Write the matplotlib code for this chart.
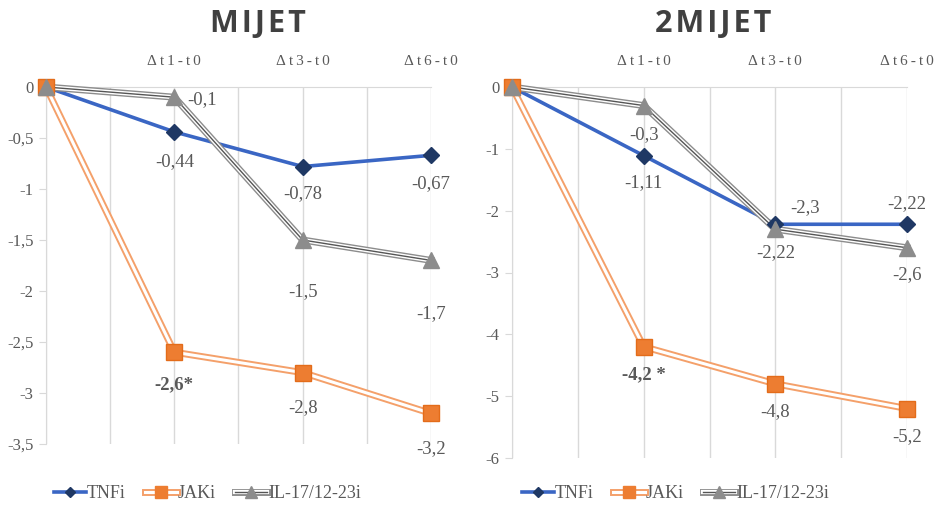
import matplotlib.pyplot as plt
from matplotlib.ticker import FuncFormatter, MultipleLocator
from matplotlib.legend_handler import HandlerTuple
from matplotlib.lines import Line2D

categories = ["", "Δt1-t0", "Δt3-t0", "Δt6-t0"]
series_names = ["TNFi", "JAKi", "IL-17/12-23i"]

mijet_tnfi = [0, -0.44, -0.78, -0.67]
mijet_jaki = [0, -2.6, -2.8, -3.2]
mijet_il = [0, -0.1, -1.5, -1.7]

mijet2_tnfi = [0, -1.11, -2.22, -2.22]
mijet2_jaki = [0, -4.2, -4.8, -5.2]
mijet2_il = [0, -0.3, -2.3, -2.6]

# labels: (text, series index, point index, dx px, dy px, bold)
mijet_labels = [
    ("-0,44", 0, 1, 0, -30, False), ("-0,78", 0, 2, 0, -27, False), ("-0,67", 0, 3, 0, -28, False),
    ("-2,6*", 1, 1, 0, -33, True), ("-2,8", 1, 2, 0, -35, False), ("-3,2", 1, 3, 0, -35, False),
    ("-0,1", 2, 1, 13, -2, False), ("-1,5", 2, 2, 0, -52, False), ("-1,7", 2, 3, 0, -53, False),
]
mijet2_labels = [
    ("-1,11", 0, 1, 0, -27, False), ("-2,22", 0, 2, 0, -28, False), ("-2,22", 0, 3, 0, 21, False),
    ("-4,2 *", 1, 1, 0, -28, True), ("-4,8", 1, 2, 0, -28, False), ("-5,2", 1, 3, 0, -28, False),
    ("-0,3", 2, 1, 0, -29, False), ("-2,3", 2, 2, 15, 22, False), ("-2,6", 2, 3, 0, -27, False),
]

SERIF = "Liberation Serif"
TXT = "#595959"
GRID = "#d9d9d9"

plt.rcParams["font.family"] = [SERIF, "DejaVu Sans"]

fig = plt.figure(figsize=(9.35, 5.07), dpi=100)
W, H = 935, 507


def spaced(s, sep="\u2009"):
    return sep.join(s)


def draw(ax, tnfi, jaki, il, labels, ymin, ystep):
    x = list(range(len(categories)))
    # TNFi
    ax.plot(x, tnfi, color="#3a66c4", lw=2.6, zorder=3, clip_on=False)
    ax.plot(x, tnfi, ls="none", marker="D", ms=8, mfc="#1f3864", mec="#1f3864", zorder=4, clip_on=False)
    # JAKi double line
    ax.plot(x, jaki, color="#f4a06a", lw=5, zorder=3, clip_on=False)
    ax.plot(x, jaki, color="white", lw=2.2, zorder=3, clip_on=False)
    ax.plot(x, jaki, ls="none", marker="s", ms=11, mfc="#ed7d31", mec="#e36c1a", zorder=5, clip_on=False)
    # IL double line with centre
    ax.plot(x, il, color="#8c8c8c", lw=5, zorder=3, clip_on=False)
    ax.plot(x, il, color="white", lw=3, zorder=3, clip_on=False)
    ax.plot(x, il, color="#555555", lw=1, zorder=3, clip_on=False)
    ax.plot(x, il, ls="none", marker="^", ms=12, mfc="#8c8c8c", mec="#8c8c8c", zorder=6, clip_on=False)

    data = [tnfi, jaki, il]
    for txt, s, i, dx, dy, bold in labels:
        ha = "left" if dx > 10 else "center"
        ax.annotate(txt, (x[i], data[s][i]), xytext=(dx * 0.72, dy * 0.72),
                    textcoords="offset points", ha=ha, va="center",
                    fontsize=13.5, color=TXT, fontweight="bold" if bold else "normal")

    ax.set_xlim(0, 3)
    ax.set_ylim(ymin, 0)
    ax.xaxis.tick_top()
    ax.set_xticks(x)
    ax.set_xticklabels([spaced(c) for c in categories], fontsize=11, color=TXT)
    ax.tick_params(axis="x", length=0, pad=14)
    ax.xaxis.set_minor_locator(MultipleLocator(0.5))
    ax.tick_params(axis="x", which="minor", length=0)
    ax.grid(axis="x", which="both", color=GRID, lw=1)
    ax.yaxis.set_major_locator(MultipleLocator(ystep))
    ax.yaxis.set_major_formatter(FuncFormatter(lambda v, p: ("%g" % v).replace(".", ",")))
    ax.tick_params(axis="y", labelsize=12, labelcolor=TXT, color=GRID, length=5, pad=4)
    for side in ["bottom", "right"]:
        ax.spines[side].set_visible(False)
    for side in ["top", "left"]:
        ax.spines[side].set_color(GRID)

    handles = [
        (Line2D([], [], color="#3a66c4", lw=2.6),
         Line2D([], [], ls="none", marker="D", ms=5, color="#1f3864")),
        (Line2D([], [], color="#f4a06a", lw=5), Line2D([], [], color="white", lw=2.2),
         Line2D([], [], ls="none", marker="s", ms=8, color="#ed7d31")),
        (Line2D([], [], color="#8c8c8c", lw=5), Line2D([], [], color="white", lw=3),
         Line2D([], [], color="#555555", lw=1),
         Line2D([], [], ls="none", marker="^", ms=8, color="#8c8c8c")),
    ]
    return handles


legend_kw = dict(handler_map={tuple: HandlerTuple(ndivide=1, pad=0)}, loc="center left",
                 ncol=3, frameon=False, fontsize=13, labelcolor=TXT, handlelength=1.75,
                 handletextpad=0.05, columnspacing=1.1, borderaxespad=0, borderpad=0)

ax1 = fig.add_axes([46 / W, 1 - 444 / H, (431 - 46) / W, (444 - 87) / H])
h = draw(ax1, mijet_tnfi, mijet_jaki, mijet_il, mijet_labels, -3.5, 0.5)
ax1.legend(h, series_names, bbox_to_anchor=((54 - 46) / 385, -(494 - 444) / 357), **legend_kw)

ax2 = fig.add_axes([512 / W, 1 - 458 / H, (907 - 512) / W, (458 - 87) / H])
h = draw(ax2, mijet2_tnfi, mijet2_jaki, mijet2_il, mijet2_labels, -6, 1)
ax2.legend(h, series_names, bbox_to_anchor=((522 - 512) / 395, -(494 - 458) / 371), **legend_kw)

fig.text(258 / W, 1 - 24 / H, spaced("MIJET", "\u200a"), ha="center", va="center", fontsize=22,
         fontweight="bold", color="#404040", family=["Open Sans", "DejaVu Sans"])
fig.text(713 / W, 1 - 24 / H, spaced("2MIJET", "\u200a"), ha="center", va="center", fontsize=22,
         fontweight="bold", color="#404040", family=["Open Sans", "DejaVu Sans"])

fig.savefig("out.png", dpi=100)
